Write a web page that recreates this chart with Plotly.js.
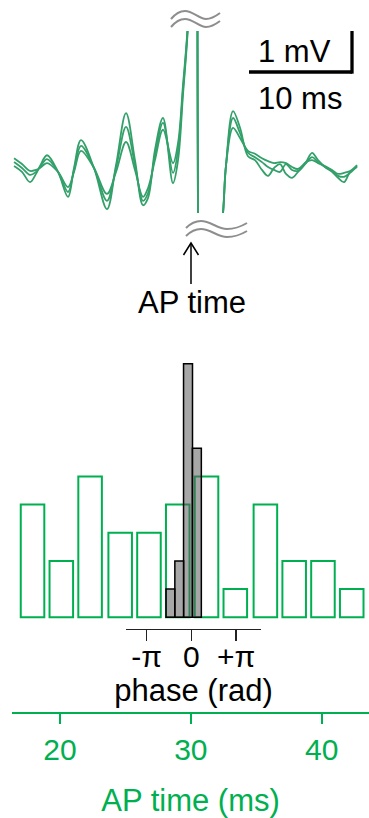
<!DOCTYPE html>
<html><head><meta charset="utf-8">
<script src="https://cdn.plot.ly/plotly-3.0.1.min.js"></script>
<style>html,body{margin:0;padding:0;background:#fff;overflow:hidden}#chart{width:369px;height:818px}</style>
</head><body><div id="chart"></div><script>
// ---- AP time histogram (green outline bars) ----
const apTimeBins   = [17.9, 20.1, 22.3, 24.6, 26.8, 29.0, 31.2, 33.4, 35.7, 37.9, 40.1, 42.3];
const apTimeCounts = [4, 2, 5, 3, 3, 4, 5, 1, 4, 2, 2, 1];
const apTimeTicks  = [20, 30, 40];
// ---- phase histogram (gray bars) ----
const phaseBins    = [-1.46, -0.84, -0.23, 0.39];
const phaseCounts  = [1, 2, 9, 6];
const phaseTickVals = [-Math.PI, 0, Math.PI];
const phaseTickText = ['-π', '0', '+π'];
// ---- spike-triggered waveforms (ms relative to AP, mV) ----
const waveTime = [-17.18,-16.41,-15.63,-15.05,-14.66,-13.98,-12.91,-11.94,-11.36,-10.68,-9.42,-8.16,-7.28,-6.31,-5.44,-4.66,-4.17,-3.50,-2.72,-1.75,-1.26,-0.78,-0.29,0.10,0.49,1.07,2.04,3.11,3.40,4.08,4.76,5.53,6.21,6.89,7.48,8.06,8.64,9.22,9.81,10.39,11.17,11.75,12.33,13.01,13.69,14.27,14.85,15.44,16.12];
const waveA = [0.02,-0.10,-0.31,-0.14,0.02,0.24,-0.10,-0.61,-0.02,0.55,-0.02,-0.86,0.04,1.10,0.14,-0.78,-0.63,0.35,1.00,-0.33,0.14,1.47,2.90,5.86,9.53,-5.78,-3.33,-0.94,0.04,1.14,0.80,0.22,0.14,-0.06,-0.18,-0.02,0.06,-0.14,-0.22,-0.10,0.10,0.29,0.14,0.00,-0.10,-0.22,-0.31,-0.10,0.00];
const waveB = [0.10,-0.02,-0.16,-0.10,0.00,0.16,-0.10,-0.51,-0.06,0.43,-0.02,-0.69,-0.02,0.82,0.04,-0.69,-0.53,0.24,0.90,-0.12,0.35,1.57,2.96,5.86,9.53,-5.78,-3.33,-0.94,0.04,1.00,0.69,0.29,0.20,0.10,0.00,-0.06,-0.10,0.06,-0.06,-0.08,0.08,0.20,0.10,0.00,-0.08,-0.18,-0.20,-0.12,0.02];
const waveC = [0.18,0.06,-0.08,-0.06,-0.02,0.08,-0.10,-0.41,-0.10,0.33,-0.02,-0.55,-0.10,0.51,-0.06,-0.61,-0.43,0.14,0.76,0.08,0.49,1.67,3.00,5.86,9.53,-5.78,-3.33,-0.94,0.04,0.80,0.59,0.33,0.27,0.18,0.12,0.08,0.10,0.08,0.00,-0.04,0.10,0.14,0.08,0.02,-0.06,-0.14,-0.12,-0.08,0.04];
// scale bar
const scaleMV = 1, scaleMS = 10, scaleCornerMS = 15.63, scaleCornerMV = 1.94;

const GREEN = '#00b050', TRACE = '#33a06a', FONT = 'Liberation Sans, Arial, Helvetica, sans-serif';
const L = 12, PW = 357, PH = 712;
const px = v => (v - L) / PW;
const py = v => (PH - v) / PH;
function pathPx(segs){
  return segs.map(s => s[0] + s.slice(1).reduce((a,v,i)=>{ if(i%2===0){a.push(px(v).toFixed(5));} else {a[a.length-1] += ',' + py(v).toFixed(5);} return a; }, []).join(' ')).join(' ');
}
const grayLine = {color:'#8e8e8e', width:2};
function tilde(x0,y0,dy){
  return [['M',x0,y0+dy],['C',x0+5,y0-6+dy, x0+9,y0-8+dy, x0+14,y0-8+dy],['C',x0+22,y0-8+dy, x0+28,y0+dy, x0+35,y0+dy],['C',x0+40,y0+dy, x0+45,y0-3+dy, x0+49,y0-6+dy]];
}
function tildeB(x0,y0,dy){
  return [['M',x0,y0+dy],['C',x0+4,y0-4+dy, x0+9,y0-7+dy, x0+15,y0-7+dy],['C',x0+25,y0-7+dy, x0+31,y0+1+dy, x0+41,y0+1+dy],['C',x0+49,y0+1+dy, x0+56,y0-2+dy, x0+61,y0-5+dy]];
}
const shapes = [
  {type:'path', xref:'paper', yref:'paper', path: pathPx(tilde(171,19,0)), line:grayLine},
  {type:'path', xref:'paper', yref:'paper', path: pathPx(tilde(171,19,8)), line:grayLine},
  {type:'path', xref:'paper', yref:'paper', path: pathPx(tildeB(186,228,0)), line:grayLine},
  {type:'path', xref:'paper', yref:'paper', path: pathPx(tildeB(186,228,8)), line:grayLine},
  // arrow to AP time
  {type:'path', xref:'paper', yref:'paper', path: pathPx([['M',191,284],['L',191,243]]), line:{color:'#000',width:1.5}},
  {type:'path', xref:'paper', yref:'paper', path: pathPx([['M',183.5,255],['L',191,243],['L',198.5,255]]), line:{color:'#000',width:1.5}},
  // scale bar: vertical 1 mV, horizontal 10 ms
  {type:'line', xref:'paper', yref:'y2', x0:px(352), x1:px(352), y0:scaleCornerMV-0.035, y1:scaleCornerMV+scaleMV, line:{color:'#000',width:3.3}},
  {type:'line', xref:'x3', yref:'paper', x0:scaleCornerMS-scaleMS, x1:scaleCornerMS, y0:py(72), y1:py(72), line:{color:'#000',width:3.3}}
];
const annotations = [
  {xref:'paper', yref:'paper', x:px(294), y:py(51), text:'1 mV', showarrow:false, font:{size:31,color:'#000',family:FONT}, xanchor:'center', yanchor:'middle'},
  {xref:'paper', yref:'paper', x:px(300), y:py(99), text:'10 ms', showarrow:false, font:{size:31,color:'#000',family:FONT}, xanchor:'center', yanchor:'middle'},
  {xref:'paper', yref:'paper', x:px(192), y:py(302), text:'AP time', showarrow:false, font:{size:31,color:'#000',family:FONT}, xanchor:'center', yanchor:'middle'}
];
const waveTraces = [waveA, waveB, waveC].map(w => ({type:'scatter', mode:'lines', x:waveTime, y:w, xaxis:'x3', yaxis:'y2', line:{color:TRACE, width:1.8, shape:'spline', smoothing:1}, hoverinfo:'skip'}));
const data = [
  {type:'bar', x:apTimeBins, y:apTimeCounts, xaxis:'x', yaxis:'y', width:1.8, marker:{color:'rgba(255,255,255,0)', line:{color:GREEN, width:2}}, hoverinfo:'skip'},
  {type:'bar', x:phaseBins, y:phaseCounts, xaxis:'x2', yaxis:'y', width:0.2*Math.PI, marker:{color:'rgba(95,95,95,0.55)', line:{color:'#000', width:1.5}}, hoverinfo:'skip'},
  ...waveTraces
];
const layout = {
  width:369, height:818, margin:{l:L, r:0, t:0, b:818-PH},
  paper_bgcolor:'#fff', plot_bgcolor:'rgba(0,0,0,0)', showlegend:false, barmode:'overlay',
  font:{family:FONT, color:'#000'},
  xaxis:{domain:[0,1], range:[16.33,43.62], anchor:'y', showline:true, linecolor:GREEN, linewidth:2, ticks:'outside', ticklen:10, tickwidth:2, tickcolor:GREEN,
         tickvals:apTimeTicks, tickfont:{size:30,color:GREEN}, showgrid:false, zeroline:false,
         title:{text:'AP time (ms)', font:{size:31,color:GREEN}, standoff:24}},
  xaxis2:{domain:[px(126), px(261)], range:[-4.579, 4.888], anchor:'free', position:py(629), showline:true, linecolor:'#222', linewidth:1.3,
          ticks:'outside', ticklen:11, tickwidth:1.3, tickcolor:'#222', tickvals:phaseTickVals, ticktext:phaseTickText, ticklabelstandoff:-10,
          tickfont:{size:30,color:'#000'}, showgrid:false, zeroline:false, title:{text:'phase (rad)', font:{size:31,color:'#000'}, standoff:0}},
  xaxis3:{domain:[0,1], range:[-17.38,17.28], anchor:'y2', visible:false},
  yaxis:{domain:[0,1], range:[-3.362, 21.913], visible:false},
  yaxis2:{domain:[py(213), py(31)], range:[-0.939, 2.776], anchor:'x3', visible:false},
  shapes:shapes, annotations:annotations
};
Plotly.newPlot('chart', data, layout, {staticPlot:true, displayModeBar:false});
</script></body></html>
